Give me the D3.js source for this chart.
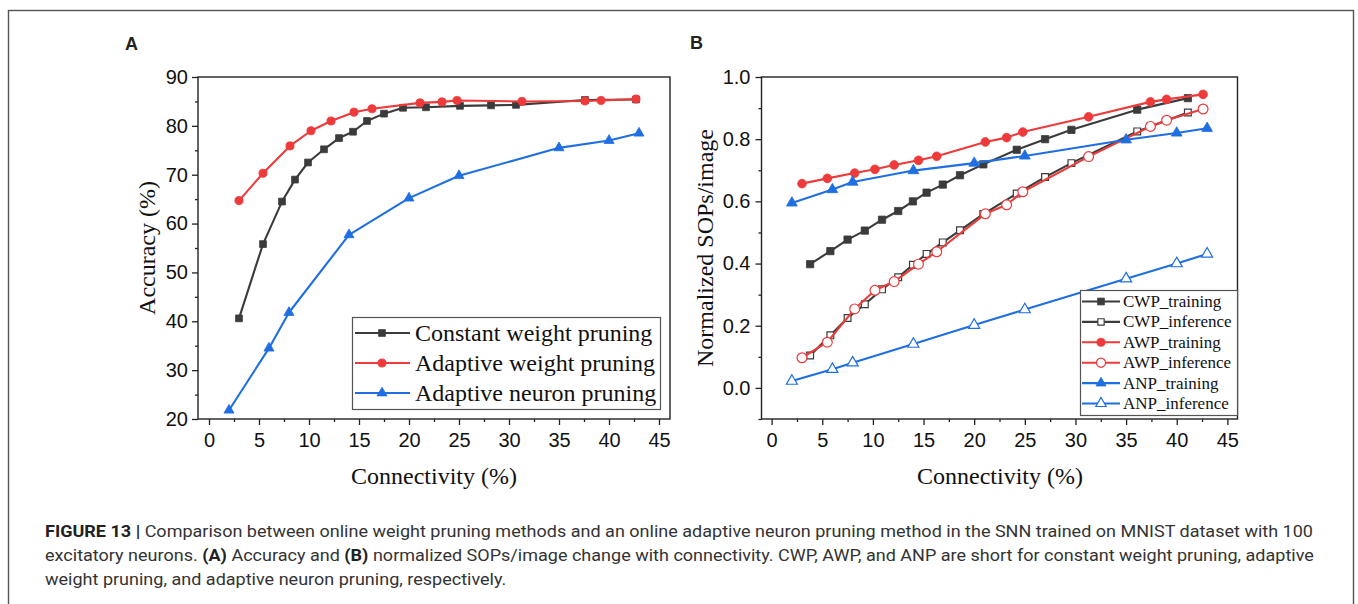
<!DOCTYPE html>
<html>
<head>
<meta charset="utf-8">
<script src="https://cdn.jsdelivr.net/npm/d3@7/dist/d3.min.js"></script>
<style>
  body { margin: 0; background: #fff; }
  text { font-kerning: normal; }
</style>
</head>
<body>
<svg id="fig" width="1358" height="604"></svg>
<script>
// ---- panel A data: accuracy (%) vs connectivity (%)
const cwpX = [3.0, 5.4, 7.3, 8.6, 9.9, 11.5, 13.0, 14.4, 15.8, 17.5, 19.4, 21.7, 25.1, 28.2, 30.7, 37.6, 42.7];
const cwpAcc = [40.6, 55.8, 64.5, 69.0, 72.5, 75.2, 77.5, 78.8, 81.0, 82.5, 83.7, 83.8, 84.1, 84.2, 84.3, 85.3, 85.4];
const awpX = [3.0, 5.4, 8.1, 10.2, 12.2, 14.5, 16.3, 21.1, 23.3, 24.8, 31.3, 37.6, 39.2, 42.7];
const awpAcc = [64.7, 70.3, 75.9, 79.0, 81.0, 82.8, 83.5, 84.7, 84.9, 85.2, 85.0, 85.1, 85.2, 85.5];
const anpX = [2, 6, 8, 14, 20, 25, 35, 40, 43];
const anpAcc = [21.8, 34.5, 41.8, 57.7, 65.2, 69.8, 75.5, 77.0, 78.5];

// ---- panel B data: normalized SOPs/image vs connectivity (%)
const cwpXB = [3.8, 5.8, 7.5, 9.2, 10.9, 12.5, 13.95, 15.3, 16.9, 18.6, 20.9, 24.2, 27.0, 29.6, 36.1, 41.1];
const cwpTrain = [0.398, 0.44, 0.477, 0.506, 0.541, 0.569, 0.600, 0.628, 0.654, 0.684, 0.719, 0.766, 0.800, 0.830, 0.895, 0.932];
const cwpInfer = [0.104, 0.169, 0.225, 0.269, 0.317, 0.356, 0.396, 0.431, 0.468, 0.507, 0.559, 0.625, 0.678, 0.723, 0.825, 0.886];
const awpXB = [3.0, 5.5, 8.2, 10.2, 12.1, 14.5, 16.3, 21.1, 23.2, 24.8, 31.3, 37.4, 39.0, 42.6];
const awpTrain = [0.657, 0.674, 0.691, 0.703, 0.717, 0.732, 0.745, 0.791, 0.805, 0.823, 0.872, 0.920, 0.928, 0.944];
const awpInfer = [0.097, 0.147, 0.254, 0.314, 0.342, 0.398, 0.438, 0.560, 0.589, 0.631, 0.744, 0.841, 0.861, 0.897];
const anpXB = [2, 6, 8, 14, 20, 25, 35, 40, 43];
const anpTrain = [0.595, 0.638, 0.662, 0.699, 0.723, 0.746, 0.798, 0.820, 0.835];
const anpInfer = [0.022, 0.060, 0.081, 0.141, 0.202, 0.252, 0.351, 0.400, 0.431];

// ---- ticks and labels
const xTicks = [0, 5, 10, 15, 20, 25, 30, 35, 40, 45];
const xMinor = [2.5, 7.5, 12.5, 17.5, 22.5, 27.5, 32.5, 37.5, 42.5];
const yTicksA = [20, 30, 40, 50, 60, 70, 80, 90];
const yMinorA = [25, 35, 45, 55, 65, 75, 85];
const yTicksB = [0.0, 0.2, 0.4, 0.6, 0.8, 1.0];
const yMinorB = [-0.1, 0.1, 0.3, 0.5, 0.7, 0.9];
const legendA = ['Constant weight pruning', 'Adaptive weight pruning', 'Adaptive neuron pruning'];
const legendB = ['CWP_training', 'CWP_inference', 'AWP_training', 'AWP_inference', 'ANP_training', 'ANP_inference'];

const BLACK = '#3b3b3b', RED = '#ee3a3a', BLUE = '#1f6fe3';
const SANS = '"Liberation Sans", Arial, sans-serif';
const SERIF = '"Liberation Serif", "Times New Roman", serif';

const svg = d3.select('#fig');

// outer frame of the figure
svg.append('rect')
  .attr('x', 8.5).attr('y', 10.5)
  .attr('width', 1345).attr('height', 800)
  .attr('fill', 'none').attr('stroke', '#555').attr('stroke-width', 1.4);

function marker(g, shape, open, color, x, y, big) {
  const k = big ? 1.15 : 1;
  let sym, size;
  if (shape === 'square') { sym = d3.symbolSquare; size = (open ? 40 : 46) * k; }
  else if (shape === 'circle') { sym = d3.symbolCircle; size = (open ? 66 : 52) * k; }
  else { sym = d3.symbolTriangle; size = (open ? 46 : 44) * k; }
  g.append('path')
    .attr('d', d3.symbol(sym, size)())
    .attr('transform', `translate(${x},${y})`)
    .attr('fill', open ? '#fff' : color)
    .attr('stroke', color)
    .attr('stroke-width', open ? 1.2 : 0.8);
}

function series(g, sx, sy, xs, ys, color, shape, open, big) {
  const pts = xs.map((x, i) => [x, ys[i]]);
  g.append('path')
    .datum(pts)
    .attr('fill', 'none')
    .attr('stroke', color)
    .attr('stroke-width', 2.1)
    .attr('stroke-linejoin', 'round')
    .attr('d', d3.line().x(d => sx(d[0])).y(d => sy(d[1])));
  pts.forEach(d => marker(g, shape, open, color, sx(d[0]), sy(d[1]), big));
}

function axes(sx, sy, yTicks, yMinor, yFmt, yPad) {
  const [x0, x1] = sx.range();
  const [y0, y1] = sy.range();
  const g = svg.append('g');

  const xa = g.append('g').attr('transform', `translate(0,${y0})`)
    .call(d3.axisBottom(sx).tickValues(xTicks).tickSize(6).tickPadding(8).tickFormat(d3.format('d')));
  g.append('g').attr('transform', `translate(0,${y0})`)
    .call(d3.axisBottom(sx).tickValues(xMinor).tickSize(3).tickFormat(''));
  const ya = g.append('g').attr('transform', `translate(${x0},0)`)
    .call(d3.axisLeft(sy).tickValues(yTicks).tickSize(6).tickPadding(yPad).tickFormat(yFmt));
  g.append('g').attr('transform', `translate(${x0},0)`)
    .call(d3.axisLeft(sy).tickValues(yMinor).tickSize(3).tickFormat(''));

  g.selectAll('.domain').remove();
  g.selectAll('.tick line').attr('stroke', '#222').attr('stroke-width', 1.3);
  g.selectAll('.tick text').attr('font-family', SANS).attr('font-size', 20).attr('fill', '#111');

  // plot box
  g.append('rect')
    .attr('x', x0).attr('y', y1)
    .attr('width', x1 - x0).attr('height', y0 - y1)
    .attr('fill', 'none').attr('stroke', '#222').attr('stroke-width', 1.4);
  return g;
}

// ================= Panel A =================
const xA = d3.scaleLinear().domain([-1.1, 46.1]).range([198, 670]);
const yA = d3.scaleLinear().domain([20, 90]).range([419, 77]);

axes(xA, yA, yTicksA, yMinorA, d3.format('d'), 4);

const gA = svg.append('g');
series(gA, xA, yA, cwpX, cwpAcc, BLACK, 'square', false, false);
series(gA, xA, yA, awpX, awpAcc, RED, 'circle', false, false);
series(gA, xA, yA, anpX, anpAcc, BLUE, 'triangle', false, false);

svg.append('text')
  .attr('x', 125).attr('y', 50)
  .attr('font-family', SANS).attr('font-weight', 'bold').attr('font-size', 18)
  .attr('fill', '#222').text('A');

svg.append('text')
  .attr('transform', 'translate(155,248) rotate(-90)')
  .attr('text-anchor', 'middle')
  .attr('font-family', SERIF).attr('font-size', 24).attr('fill', '#111')
  .text('Accuracy (%)');

svg.append('text')
  .attr('x', 434).attr('y', 484)
  .attr('text-anchor', 'middle')
  .attr('font-family', SERIF).attr('font-size', 24).attr('fill', '#111')
  .text('Connectivity (%)');

// legend A
const legA = svg.append('g');
legA.append('rect')
  .attr('x', 352.5).attr('y', 317.5).attr('width', 308).attr('height', 92)
  .attr('fill', '#fff').attr('stroke', '#555').attr('stroke-width', 1.2);
const legAStyle = [[BLACK, 'square'], [RED, 'circle'], [BLUE, 'triangle']];
legendA.forEach((name, i) => {
  const cy = 333 + i * 30;
  legA.append('line')
    .attr('x1', 355).attr('x2', 410).attr('y1', cy).attr('y2', cy)
    .attr('stroke', legAStyle[i][0]).attr('stroke-width', 2.1);
  marker(legA, legAStyle[i][1], false, legAStyle[i][0], 382, cy, false);
  legA.append('text')
    .attr('x', 415).attr('y', cy).attr('dy', '0.32em')
    .attr('font-family', SERIF).attr('font-size', 24).attr('fill', '#111')
    .text(name);
});

// ================= Panel B =================
const xB = d3.scaleLinear().domain([-1, 46]).range([761.5, 1237.5]);
const yB = d3.scaleLinear().domain([-0.1, 1.0]).range([419, 77]);

axes(xB, yB, yTicksB, yMinorB, d3.format('.1f'), 5);

const gB = svg.append('g');
series(gB, xB, yB, cwpXB, cwpTrain, BLACK, 'square', false, true);
series(gB, xB, yB, cwpXB, cwpInfer, BLACK, 'square', true, true);
series(gB, xB, yB, awpXB, awpTrain, RED, 'circle', false, true);
series(gB, xB, yB, awpXB, awpInfer, RED, 'circle', true, true);
series(gB, xB, yB, anpXB, anpTrain, BLUE, 'triangle', false, true);
series(gB, xB, yB, anpXB, anpInfer, BLUE, 'triangle', true, true);

svg.append('text')
  .attr('x', 690).attr('y', 49)
  .attr('font-family', SANS).attr('font-weight', 'bold').attr('font-size', 18)
  .attr('fill', '#222').text('B');

svg.append('text')
  .attr('transform', 'translate(713,248) rotate(-90)')
  .attr('text-anchor', 'middle')
  .attr('font-family', SERIF).attr('font-size', 24).attr('fill', '#111')
  .text('Normalized SOPs/image');

svg.append('text')
  .attr('x', 1000).attr('y', 484)
  .attr('text-anchor', 'middle')
  .attr('font-family', SERIF).attr('font-size', 24).attr('fill', '#111')
  .text('Connectivity (%)');

// legend B
const legB = svg.append('g');
legB.append('rect')
  .attr('x', 1080.5).attr('y', 290.5).attr('width', 157).attr('height', 125)
  .attr('fill', '#fff').attr('stroke', '#555').attr('stroke-width', 1.2);
const legBStyle = [
  [BLACK, 'square', false], [BLACK, 'square', true],
  [RED, 'circle', false], [RED, 'circle', true],
  [BLUE, 'triangle', false], [BLUE, 'triangle', true]
];
legendB.forEach((name, i) => {
  const cy = 301.5 + i * 20.4;
  const s = legBStyle[i];
  legB.append('line')
    .attr('x1', 1082).attr('x2', 1120).attr('y1', cy).attr('y2', cy)
    .attr('stroke', s[0]).attr('stroke-width', 2.1);
  marker(legB, s[1], s[2], s[0], 1101, cy, false);
  legB.append('text')
    .attr('x', 1123).attr('y', cy).attr('dy', '0.32em')
    .attr('font-family', SERIF).attr('font-size', 17).attr('fill', '#111')
    .text(name);
});

// ================= caption =================
const captionLines = [
  [['FIGURE 13 | ', true], ['Comparison between online weight pruning methods and an online adaptive neuron pruning method in the SNN trained on MNIST dataset with 100', false]],
  [['excitatory neurons. ', false], ['(A)', true], [' Accuracy and ', false], ['(B)', true], [' normalized SOPs/image change with connectivity. CWP, AWP, and ANP are short for constant weight pruning, adaptive', false]],
  [['weight pruning, and adaptive neuron pruning, respectively.', false]]
];
const captionY = [537, 561, 585];

const cap = svg.append('g')
  .attr('font-family', '"Liberation Sans Narrow", "Roboto", "Liberation Sans", sans-serif')
  .attr('font-size', 17).attr('fill', '#333');
const capNodes = captionLines.map((parts, i) => {
  const t = cap.append('text').attr('x', 45).attr('y', captionY[i]);
  parts.forEach(p => {
    t.append('tspan')
      .attr('font-weight', p[1] ? 'bold' : null)
      .attr('fill', p[1] ? '#222' : null)
      .text(p[0]);
  });
  return t;
});
// fit first line to the width of the reference, keep the same scale on the others
const w0 = capNodes[0].node().getComputedTextLength();
const k = 1268 / w0;
capNodes.forEach(t => {
  const w = t.node().getComputedTextLength();
  t.attr('textLength', w * k).attr('lengthAdjust', 'spacingAndGlyphs');
});
</script>
</body>
</html>
